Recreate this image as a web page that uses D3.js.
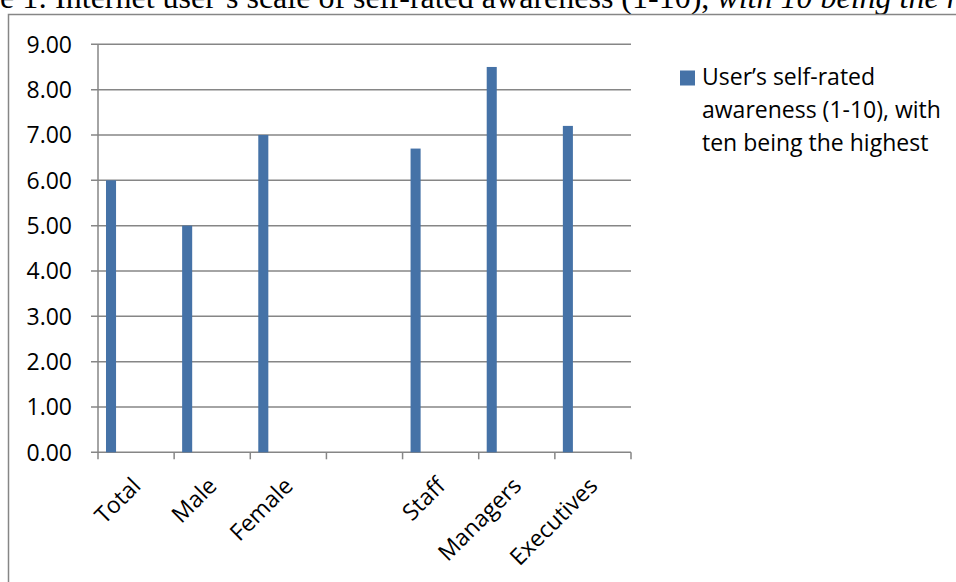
<!DOCTYPE html>
<html><head><meta charset="utf-8">
<script src="https://cdn.jsdelivr.net/npm/d3@7"></script>
<style>html,body{margin:0;padding:0;background:#fff;overflow:hidden}</style>
</head><body>
<svg id="c" width="956" height="582"></svg>
<script>
const categories = ["Total", "Male", "Female", "", "Staff", "Managers", "Executives"];
const values = [6.0, 5.0, 7.0, null, 6.7, 8.5, 7.2];
const yTicks = [0, 1, 2, 3, 4, 5, 6, 7, 8, 9];
const seriesName = ["User\u2019s self-rated", "awareness (1-10), with", "ten being the highest"];
const titleStart = "Table 1: Internet user\u2019s scale of self-rated awareness (1-10), ";
const titleItalic = "with 10 being the highest";

const svg = d3.select("#c");
const grid = "#868686";
const barColor = "#4572A7";
const font = "'Open Sans', sans-serif";
const fs = 23;

// title (cut off at top/left like the reference)
const title = svg.append("text").attr("y", 7.5)
  .attr("font-family", "'Liberation Serif', 'Times New Roman', serif")
  .attr("font-size", 32).attr("fill", "#000");
title.append("tspan").text(titleStart);
title.append("tspan").attr("font-style", "italic").text(titleItalic);
const probe = svg.append("text").attr("font-family", "'Liberation Serif', serif").attr("font-size", 32).text("Tabl");
const off = probe.node().getComputedTextLength();
probe.remove();
title.attr("x", -off);

// frame
svg.append("rect").attr("x", 8.5).attr("y", 14.5).attr("width", 1000).attr("height", 1000)
  .attr("fill", "#fff").attr("stroke", grid).attr("stroke-width", 1.5);

const x0 = 98, x1 = 631, yTop = 44.3, yBot = 452.3;
const x = d3.scaleBand().domain(d3.range(categories.length)).range([x0, x1]).padding(0);
const y = d3.scaleLinear().domain([0, 9]).range([yBot, yTop]);
const bw = x.bandwidth();

// gridlines
svg.append("g").selectAll("line").data(yTicks).join("line")
  .attr("x1", x0 - 7).attr("x2", x1).attr("y1", d => y(d)).attr("y2", d => y(d))
  .attr("stroke", grid).attr("stroke-width", 1.5);
// y axis line
svg.append("line").attr("x1", x0).attr("x2", x0).attr("y1", yTop).attr("y2", yBot)
  .attr("stroke", grid).attr("stroke-width", 1.5);
// x ticks
svg.append("g").selectAll("line").data(d3.range(categories.length + 1)).join("line")
  .attr("x1", i => x0 + i * bw).attr("x2", i => x0 + i * bw)
  .attr("y1", yBot).attr("y2", yBot + 7).attr("stroke", grid).attr("stroke-width", 1.5);

// y labels
svg.append("g").selectAll("text").data(yTicks).join("text")
  .attr("x", 72).attr("y", d => y(d)).attr("dy", "0.36em").attr("text-anchor", "end")
  .attr("font-family", font).attr("font-size", fs).attr("fill", "#000")
  .text(d => d.toFixed(2));

// bars
svg.append("g").selectAll("rect").data(values.map((v, i) => ({v, i})).filter(d => d.v != null)).join("rect")
  .attr("x", d => x(d.i) + bw * 0.105).attr("width", bw * 0.132)
  .attr("y", d => y(d.v)).attr("height", d => y(0) - y(d.v))
  .attr("fill", barColor);

// category labels
svg.append("g").selectAll("text").data(categories).join("text")
  .attr("transform", (d, i) => `translate(${x(i) + bw / 2 + 6},${yBot + 35}) rotate(-45)`)
  .attr("text-anchor", "end")
  .attr("font-family", font).attr("font-size", fs).attr("fill", "#000")
  .text(d => d);

// legend
svg.append("rect").attr("x", 680).attr("y", 70.5).attr("width", 15).attr("height", 15).attr("fill", barColor);
svg.append("g").selectAll("text").data(seriesName).join("text")
  .attr("x", 702).attr("y", (d, i) => 84.5 + i * 33)
  .attr("font-family", font).attr("font-size", fs).attr("fill", "#000")
  .text(d => d);
</script>
</body></html>
